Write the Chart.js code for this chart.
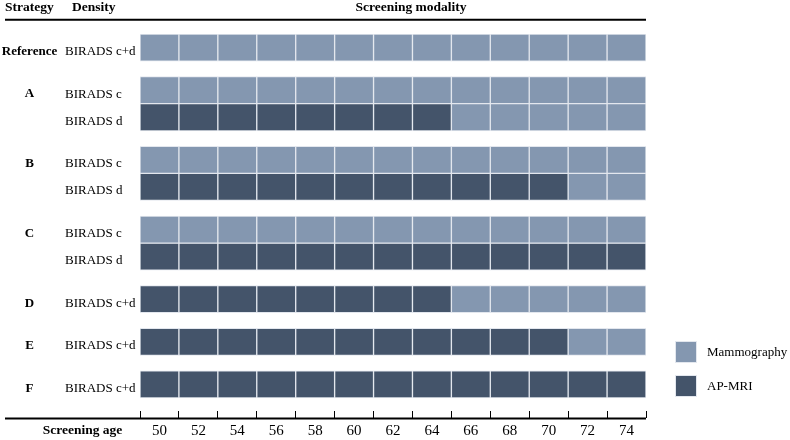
<!DOCTYPE html>
<html><head><meta charset="utf-8">
<script src="https://cdn.jsdelivr.net/npm/chart.js@4.4.0/dist/chart.umd.min.js"></script>
<style>html,body{margin:0;padding:0;background:#fff}#wrap{width:790px;height:440px;position:relative}</style>
</head><body><div id="wrap"><canvas id="c" width="790" height="440"></canvas></div>
<script>
// ---- data ----
const ages = [50, 52, 54, 56, 58, 60, 62, 64, 66, 68, 70, 72, 74];
const strategyGroup = ['Reference', 'A', 'A', 'B', 'B', 'C', 'C', 'D', 'E', 'F'];
const strategies = ['Reference', 'A', '', 'B', '', 'C', '', 'D', 'E', 'F'];
const densities = ['BIRADS c+d', 'BIRADS c', 'BIRADS d', 'BIRADS c', 'BIRADS d', 'BIRADS c', 'BIRADS d', 'BIRADS c+d', 'BIRADS c+d', 'BIRADS c+d'];
// one code per screening age: M = Mammography, R = AP-MRI
const modality = [
  'MMMMMMMMMMMMM',
  'MMMMMMMMMMMMM',
  'RRRRRRRRMMMMM',
  'MMMMMMMMMMMMM',
  'RRRRRRRRRRRMM',
  'MMMMMMMMMMMMM',
  'RRRRRRRRRRRRR',
  'RRRRRRRRMMMMM',
  'RRRRRRRRRRRMM',
  'RRRRRRRRRRRRR'
];
const modalityCodes = ['M', 'R'];
const modalityNames = ['Mammography', 'AP-MRI'];
const headers = ['Strategy', 'Density', 'Screening modality'];
const axisTitle = 'Screening age';

// ---- layout helpers ----
const COLORS = ['#8497B0', '#44546A'];
const CELL_BORDER = '#e3e7ee';
const GROUP_GAP = 0.57;
const rowPos = [];
let cursor = 0;
strategyGroup.forEach((g, i) => {
  if (i > 0 && g !== strategyGroup[i - 1]) cursor += GROUP_GAP;
  rowPos.push(cursor + 0.5);
  cursor += 1;
});
const yMax = cursor + 0.74;
const half = (ages[1] - ages[0]) / 2;
const xMin = ages[0] - half, xMax = ages[ages.length - 1] + half;

function cellsFor(code) {
  const out = [];
  modality.forEach((row, r) => {
    ages.forEach((a, k) => {
      if (row[k] === code) out.push({ x: [a - half, a + half], y: rowPos[r] });
    });
  });
  return out;
}

const datasets = modalityCodes.map((code, i) => ({
  label: modalityNames[i],
  data: cellsFor(code),
  backgroundColor: COLORS[i],
  borderColor: CELL_BORDER,
  borderWidth: 1,
  borderSkipped: false,
  barPercentage: 1,
  categoryPercentage: 1,
  grouped: false
}));

const SERIF = "'Liberation Serif', 'Times New Roman', serif";

const decor = {
  id: 'decor',
  afterDraw(chart) {
    const ctx = chart.ctx;
    const area = chart.chartArea;
    const ys = chart.scales.y;
    const xs = chart.scales.x;
    ctx.save();
    ctx.fillStyle = '#000';
    ctx.textBaseline = 'middle';
    // headers
    ctx.font = 'bold 13.5px ' + SERIF;
    ctx.textAlign = 'left';
    ctx.fillText(headers[0], 5, 8);
    ctx.fillText(headers[1], 72, 8);
    ctx.textAlign = 'center';
    ctx.fillText(headers[2], (area.left + area.right) / 2 + 18, 8);
    // header rule
    ctx.strokeStyle = '#000';
    ctx.lineWidth = 2;
    ctx.beginPath();
    ctx.moveTo(5, 19.8);
    ctx.lineTo(area.right, 19.8);
    ctx.stroke();
    // row labels
    rowPos.forEach((p, i) => {
      const y = ys.getPixelForValue(p) + 4;
      if (strategies[i]) {
        ctx.font = 'bold 13px ' + SERIF;
        ctx.textAlign = 'center';
        ctx.fillText(strategies[i], 29.5, y);
      }
      ctx.font = '13px ' + SERIF;
      ctx.textAlign = 'left';
      ctx.fillText(densities[i], 65, y);
    });
    // bottom axis rule
    ctx.lineWidth = 2;
    ctx.beginPath();
    ctx.moveTo(5, xs.top + 0.6);
    ctx.lineTo(area.right, xs.top + 0.6);
    ctx.stroke();
    // axis title
    ctx.font = 'bold 13.5px ' + SERIF;
    ctx.textAlign = 'center';
    ctx.fillText(axisTitle, 82.5, 431);
    // legend
    chart.data.datasets.forEach((d, i) => {
      const bx = 675, by = 341 + i * 34, s = 22;
      ctx.fillStyle = CELL_BORDER;
      ctx.fillRect(bx, by, s, s);
      ctx.fillStyle = d.backgroundColor;
      ctx.fillRect(bx + 1, by + 1, s - 2, s - 2);
      ctx.fillStyle = '#000';
      ctx.font = '13px ' + SERIF;
      ctx.textAlign = 'left';
      ctx.fillText(d.label, 707, by + s / 2 + 1);
    });
    ctx.restore();
  }
};

Chart.defaults.font.family = SERIF;
Chart.defaults.color = '#000';

new Chart(document.getElementById('c'), {
  type: 'bar',
  data: { datasets },
  options: {
    indexAxis: 'y',
    responsive: false,
    animation: false,
    events: [],
    layout: { padding: { left: 140, right: 144, top: 34, bottom: 0 } },
    plugins: { legend: { display: false }, tooltip: { enabled: false } },
    scales: {
      x: {
        type: 'linear',
        position: 'bottom',
        offset: false,
        min: xMin,
        max: xMax,
        afterBuildTicks: s => {
          const t = [];
          ages.forEach(a => { t.push({ value: a - half }); t.push({ value: a }); });
          t.push({ value: xMax });
          s.ticks = t;
        },
        afterFit: s => { s.height = 22; },
        border: { display: false },
        grid: {
          drawOnChartArea: false,
          drawTicks: true,
          tickLength: -7,
          tickWidth: 1,
          tickColor: c => (c.tick && ages.includes(c.tick.value)) ? 'rgba(0,0,0,0)' : '#000'
        },
        ticks: {
          autoSkip: false,
          maxRotation: 0,
          minRotation: 0,
          padding: 11,
          color: '#000',
          font: { size: 15, family: SERIF },
          callback: v => ages.includes(v) ? String(v) : ''
        }
      },
      y: {
        type: 'linear',
        reverse: true,
        offset: false,
        min: 0,
        max: yMax,
        display: false,
        afterBuildTicks: s => { s.ticks = rowPos.map(v => ({ value: v })); }
      }
    }
  },
  plugins: [decor]
});
</script>
</body></html>
